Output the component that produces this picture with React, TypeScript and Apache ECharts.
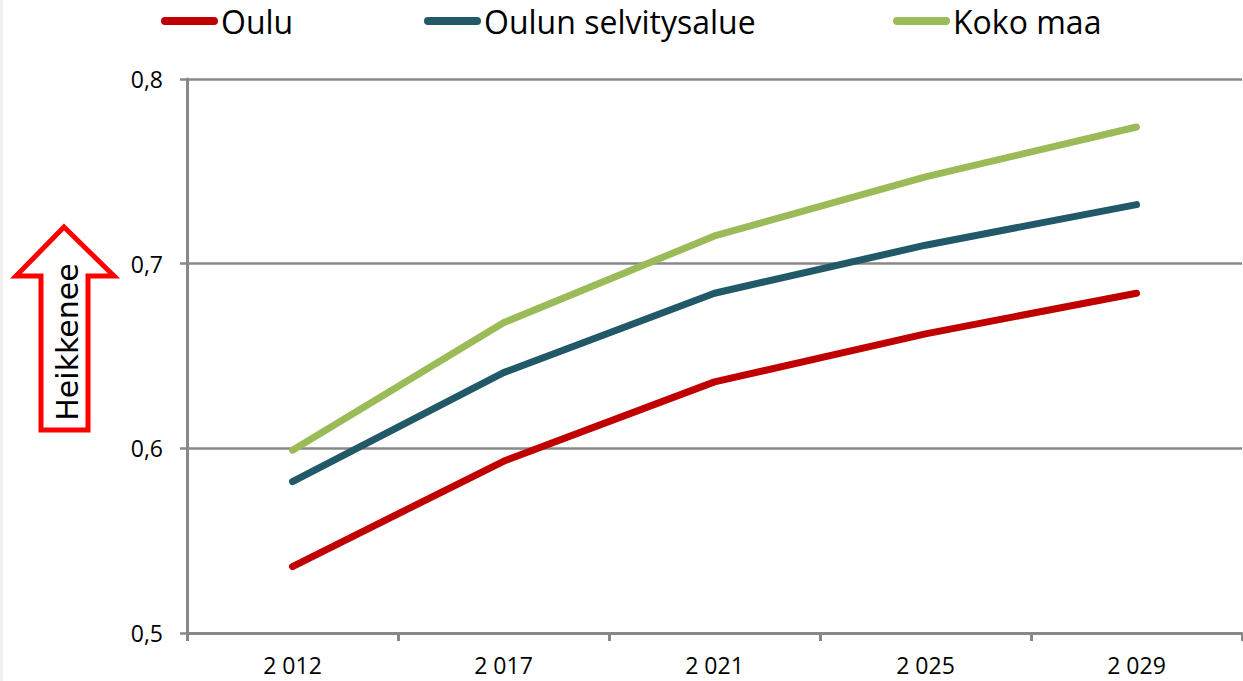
import React, { useEffect, useRef } from "react";
import * as echarts from "echarts";

const categories = ["2 012", "2 017", "2 021", "2 025", "2 029"];
const seriesNames = ["Oulu", "Oulun selvitysalue", "Koko maa"];
const ouluValues = [0.536, 0.593, 0.636, 0.662, 0.684];
const selvitysalueValues = [0.582, 0.641, 0.684, 0.710, 0.732];
const kokoMaaValues = [0.599, 0.668, 0.715, 0.747, 0.774];
const seriesColors = ["#C00000", "#215968", "#9BBB59"];
const yMin = 0.5;
const yMax = 0.8;
const yInterval = 0.1;
const arrowLabel = "Heikkenee";

const FONT = "'Open Sans', 'Noto Sans', sans-serif";
const AXIS_GRAY = "#888888";
const legendIcon = "path://M4,0 L53,0 A4,4 0 0 1 53,8 L4,8 A4,4 0 0 1 4,0 Z";

export default function App() {
  const ref = useRef<HTMLDivElement>(null);

  useEffect(() => {
    if (!ref.current) return;
    const chart = echarts.init(ref.current, null, { renderer: "svg" });
    const values = [ouluValues, selvitysalueValues, kokoMaaValues];
    const legendLefts = [161, 424, 893];

    chart.setOption({
      animation: false,
      backgroundColor: "#ffffff",
      legend: seriesNames.map((name, i) => ({
        data: [{ name, icon: legendIcon }],
        left: legendLefts[i],
        top: 5,
        itemWidth: 57,
        itemHeight: 8,
        itemGap: 0,
        padding: 0,
        textStyle: { fontSize: 32, fontFamily: FONT, color: "#000000", padding: [0, 0, 0, -2] },
      })),
      grid: { left: 187, top: 79, width: 1055, height: 554, containLabel: false },
      xAxis: {
        type: "category",
        data: categories,
        boundaryGap: true,
        axisLine: { show: true, lineStyle: { color: AXIS_GRAY, width: 3 } },
        axisTick: { show: true, length: 8, lineStyle: { color: AXIS_GRAY, width: 3 } },
        axisLabel: { fontSize: 23, fontFamily: FONT, color: "#000000", margin: 20 },
        splitLine: { show: false },
      },
      yAxis: {
        type: "value",
        min: yMin,
        max: yMax,
        interval: yInterval,
        axisLine: { show: true, lineStyle: { color: AXIS_GRAY, width: 3 } },
        axisTick: { show: true, length: 7, lineStyle: { color: AXIS_GRAY, width: 2.5 } },
        axisLabel: {
          fontSize: 23,
          fontFamily: FONT,
          color: "#000000",
          margin: 24,
          formatter: (v: number) => v.toFixed(1).replace(".", ","),
        },
        splitLine: { show: true, lineStyle: { color: AXIS_GRAY, width: 2.5 } },
      },
      series: seriesNames.map((name, i) => ({
        name,
        type: "line",
        data: values[i],
        symbol: "none",
        showSymbol: false,
        color: seriesColors[i],
        lineStyle: { color: seriesColors[i], width: 7, cap: "round", join: "round" },
        z: 3 + i,
      })),
      graphic: [
        {
          type: "rect",
          left: 0,
          top: 0,
          shape: { x: 0, y: 0, width: 3, height: 681 },
          style: { fill: "#f0f0f0" },
          silent: true,
        },
        {
          type: "polygon",
          shape: {
            points: [
              [64, 227],
              [16, 276],
              [41, 276],
              [41, 430],
              [88, 430],
              [88, 276],
              [114, 276],
            ],
          },
          style: { fill: "#ffffff", stroke: "#FF0000", lineWidth: 5, lineJoin: "miter" },
          z: 10,
        },
        {
          type: "text",
          x: 67,
          y: 342,
          rotation: Math.PI / 2,
          style: {
            text: arrowLabel,
            fontSize: 30,
            fontFamily: "'DejaVu Sans', sans-serif",
            fill: "#000000",
            textAlign: "center",
            textVerticalAlign: "middle",
          },
          z: 11,
        },
      ],
    });

    return () => chart.dispose();
  }, []);

  return (
    <div
      ref={ref}
      style={{ position: "fixed", left: 0, top: 0, width: 1243, height: 681 }}
    />
  );
}
